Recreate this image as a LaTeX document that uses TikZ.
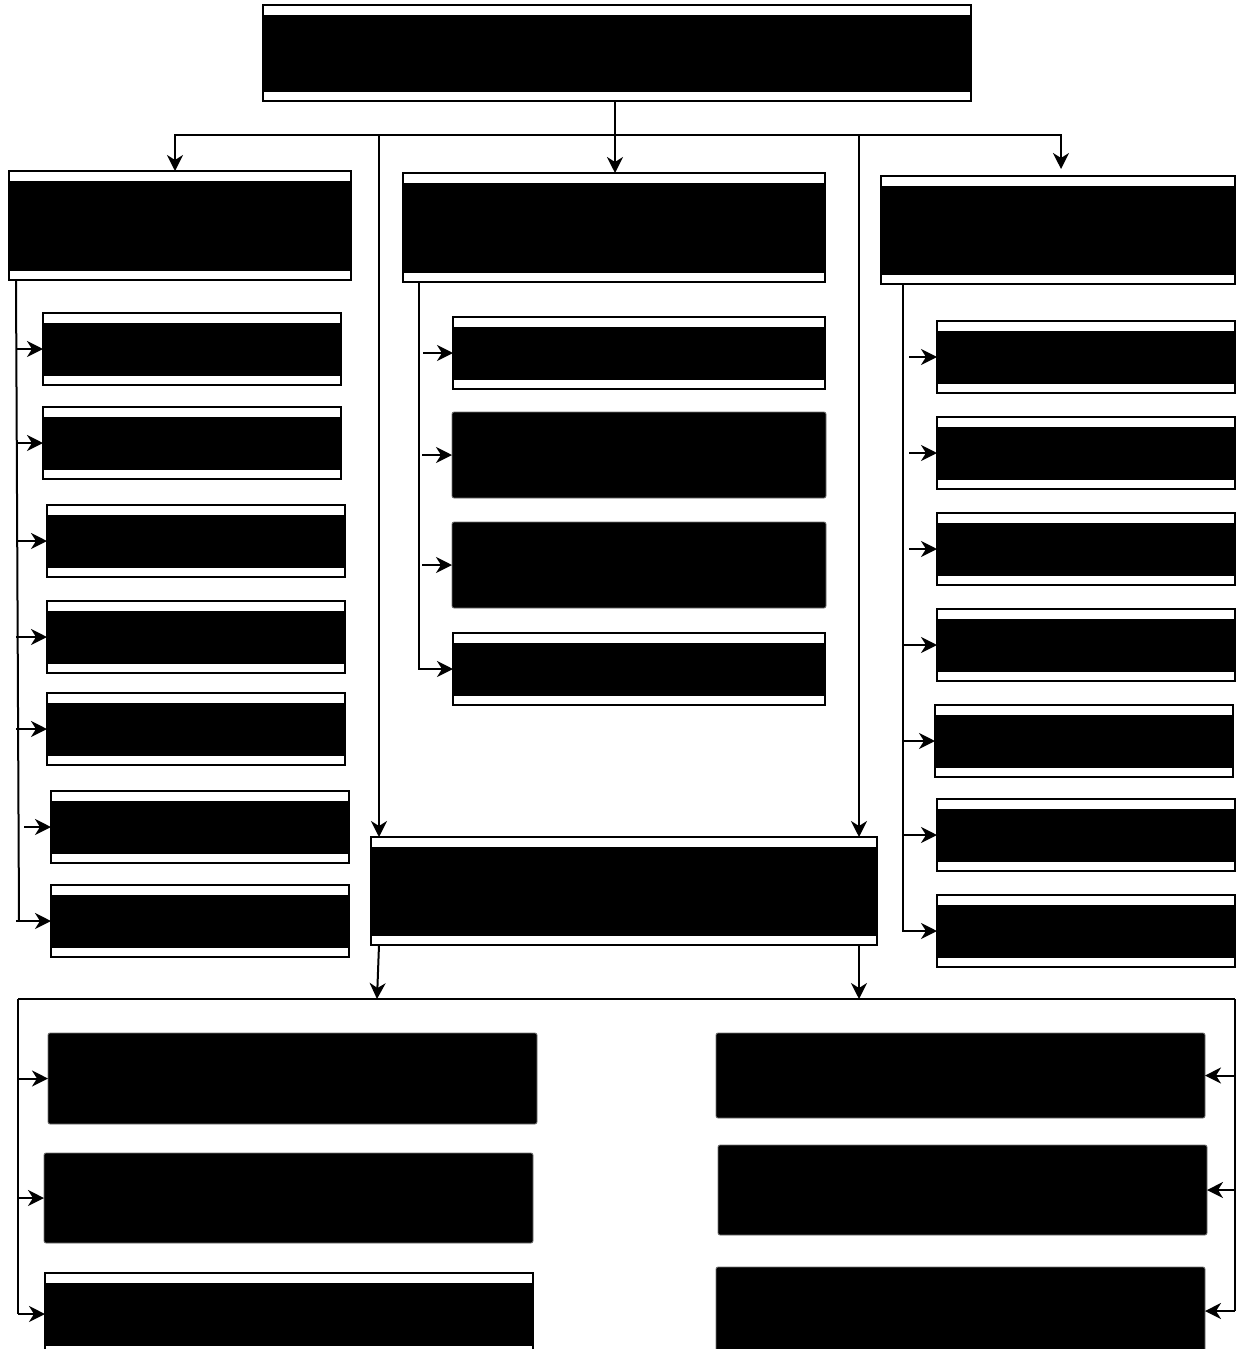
\documentclass[tikz,border=0pt]{standalone}
\usepackage{tikz}
\usetikzlibrary{arrows.meta,positioning,calc}

\tikzset{
  framed/.style={draw, line width=1.1pt, fill=white, inner sep=0pt, outer sep=0pt,
    path picture={\fill[black] ([xshift=0.7pt,yshift=-5pt]path picture bounding box.north west)
      rectangle ([xshift=-0.7pt,yshift=4.5pt]path picture bounding box.south east);}},
  solid box/.style={draw=black!55, line width=0.4pt, fill=black, rounded corners=1pt,
    inner sep=0pt, outer sep=0pt},
  conn/.style={line width=1pt},
  arr/.style={conn, -{Stealth[length=8pt,width=8pt,inset=2.5pt]}}
}

\begin{document}
\begin{tikzpicture}[x=0.5pt,y=-0.5pt]
  \useasboundingbox (0,0) rectangle (1238,1349);
  \clip (0,0) rectangle (1238,1349);

  % top level
  \node[framed, minimum width=354pt, minimum height=48pt] (T) at (617,53) {};
  \node[framed, minimum width=171pt, minimum height=54.5pt] (L) at (180,225.5) {};
  \node[framed, minimum width=211pt, minimum height=54.5pt] (M) at (614,227.5) {};
  \node[framed, minimum width=177pt, minimum height=54pt] (R) at (1058,230) {};

  % left column
  \node[framed, minimum width=149pt, minimum height=36pt] (l1) at (192,349) {};
  \node[framed, minimum width=149pt, minimum height=36pt] (l2) at (192,443) {};
  \node[framed, minimum width=149pt, minimum height=36pt] (l3) at (196,541) {};
  \node[framed, minimum width=149pt, minimum height=36pt] (l4) at (196,637) {};
  \node[framed, minimum width=149pt, minimum height=36pt] (l5) at (196,729) {};
  \node[framed, minimum width=149pt, minimum height=36pt] (l6) at (200,827) {};
  \node[framed, minimum width=149pt, minimum height=36pt] (l7) at (200,921) {};

  % middle column
  \node[framed, minimum width=186pt, minimum height=36pt] (m1) at (639,353) {};
  \node[solid box, minimum width=187pt, minimum height=43pt] (m2) at (639,455) {};
  \node[solid box, minimum width=187pt, minimum height=43pt] (m3) at (639,565) {};
  \node[framed, minimum width=186pt, minimum height=36pt] (m4) at (639,669) {};

  % right column
  \node[framed, minimum width=149pt, minimum height=36pt] (r1) at (1086,357) {};
  \node[framed, minimum width=149pt, minimum height=36pt] (r2) at (1086,453) {};
  \node[framed, minimum width=149pt, minimum height=36pt] (r3) at (1086,549) {};
  \node[framed, minimum width=149pt, minimum height=36pt] (r4) at (1086,645) {};
  \node[framed, minimum width=149pt, minimum height=36pt] (r5) at (1084,741) {};
  \node[framed, minimum width=149pt, minimum height=36pt] (r6) at (1086,835) {};
  \node[framed, minimum width=149pt, minimum height=36pt] (r7) at (1086,931) {};

  % joint box
  \node[framed, minimum width=253pt, minimum height=54pt] (C) at (624,891) {};

  % bottom rows
  \node[solid box, minimum width=244.5pt, minimum height=45.5pt] (b1) at (292.5,1078.5) {};
  \node[solid box, minimum width=244.5pt, minimum height=45pt] (b2) at (288.5,1198) {};
  \node[framed, minimum width=244pt, minimum height=41pt] (b3) at (289,1314) {};
  \node[solid box, minimum width=244.5pt, minimum height=42.5pt] (d1) at (960.5,1075.5) {};
  \node[solid box, minimum width=244.5pt, minimum height=45pt] (d2) at (962.5,1190) {};
  \node[solid box, minimum width=244.5pt, minimum height=44pt] (d3) at (960.5,1311) {};

  % helper points
  \coordinate (hub) at (615,135);
  \coordinate (cl) at (379,135);
  \coordinate (cr) at (859,135);
  \coordinate (lx) at (16,0);
  \coordinate (mx) at (419,0);
  \coordinate (rx) at (903,0);
  \coordinate (cb1) at (377,999);
  \coordinate (cb2) at (859,999);
  \coordinate (bl) at (18,999);
  \coordinate (br) at (1235,999);

  % top distribution
  \draw[conn] (hub |- T.south) -- (hub);
  \draw[conn] ([xshift=-2.5pt]L.north |- hub) -- (R.north |- hub);
  \draw[arr] (hub) -| ([xshift=-2.5pt]L.north);
  \draw[arr] (hub) -- (hub |- M.north);
  \draw[arr] (hub) -| ([xshift=1.5pt,yshift=3.5pt]R.north);
  \draw[arr] (cl) -- (cl |- C.north);
  \draw[arr] (cr) -- (cr |- C.north);

  % left branch
  \draw[conn] (L.south -| lx) -- ([xshift=1.5pt]l7.west -| lx);
  \foreach \n in {l1,l2,l3,l4,l5,l7}
    \draw[arr] (\n.west -| lx) -- (\n.west);
  \draw[arr] ([xshift=-13.5pt]l6.west) -- (l6.west);

  % middle branch
  \draw[arr] (M.south -| mx) |- (m4.west);
  \foreach \n in {m1,m2,m3}
    \draw[arr] ([xshift=-15pt]\n.west) -- (\n.west);

  % right branch
  \draw[conn] (R.south -| rx) |- ([xshift=-16pt]r7.west);
  \foreach \n in {r4,r5,r6,r7}
    \draw[arr] (\n.west -| rx) -- (\n.west);
  \foreach \n in {r1,r2,r3}
    \draw[arr] ([xshift=-14pt]\n.west) -- (\n.west);

  % bottom distribution
  \draw[arr] ([xshift=4pt]C.south west) -- (cb1);
  \draw[arr] (cb2 |- C.south) -- (cb2);
  \draw[conn] (bl) -- (br);
  \draw[conn] (bl) -- (bl |- b3.west);
  \draw[conn] (br) -- (br |- d3.east);
  \foreach \n in {b1,b2,b3}
    \draw[arr] (\n.west -| bl) -- (\n.west);
  \foreach \n in {d1,d2,d3}
    \draw[arr] (\n.east -| br) -- (\n.east);
\end{tikzpicture}
\end{document}
